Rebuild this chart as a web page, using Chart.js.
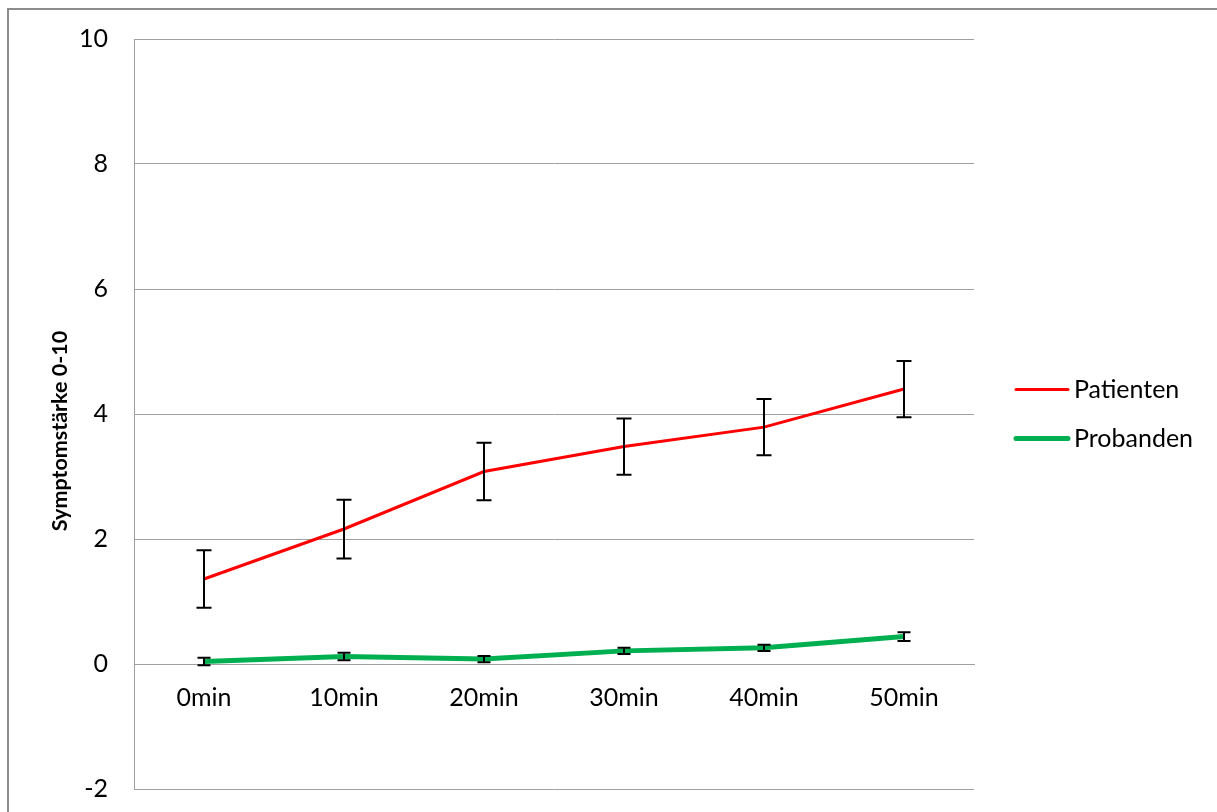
<!DOCTYPE html>
<html>
<head>
<meta charset="utf-8">
<script src="https://cdn.jsdelivr.net/npm/chart.js@4"></script>
<style>
    body { margin: 0; background: #fff; }
</style>
</head>
<body>
<canvas id="symptomChart" width="1217" height="812"></canvas>
<script>
const timeLabels = ['0min', '10min', '20min', '30min', '40min', '50min'];

const patienten = [1.36, 2.16, 3.08, 3.48, 3.79, 4.40];
const patientenErr = [0.46, 0.47, 0.46, 0.45, 0.45, 0.45];

const probanden = [0.04, 0.12, 0.08, 0.21, 0.26, 0.44];
const probandenErr = [0.06, 0.06, 0.05, 0.05, 0.05, 0.07];

const yTicks = [-2, 0, 2, 4, 6, 8, 10];
const yTitle = 'Symptomstärke 0-10';

const fontFamily = 'Lato, "Open Sans", sans-serif';

// black error bars with caps, drawn through the chart's own scales
const errorBars = {
    id: 'errorBars',
    afterDatasetsDraw(chart) {
        const ctx = chart.ctx;
        const xs = chart.scales.x, ys = chart.scales.y;
        ctx.save();
        ctx.strokeStyle = '#000';
        ctx.lineWidth = 2;
        chart.data.datasets.forEach(ds => {
            ds.data.forEach((v, i) => {
                const err = ds.errors[i];
                const x = xs.getPixelForValue(i);
                const top = ys.getPixelForValue(v + err);
                const bot = ys.getPixelForValue(v - err);
                const cap = ds.capWidth / 2;
                ctx.beginPath();
                ctx.moveTo(x, top); ctx.lineTo(x, bot);
                ctx.moveTo(x - cap, top); ctx.lineTo(x + cap, top);
                ctx.moveTo(x - cap, bot); ctx.lineTo(x + cap, bot);
                ctx.stroke();
            });
        });
        ctx.restore();
    }
};

// legend on the right, y title, and the frame around the whole chart
const sideLegend = {
    id: 'sideLegend',
    afterDraw(chart) {
        const ctx = chart.ctx;
        const area = chart.chartArea;
        const mid = (area.top + area.bottom) / 2;
        ctx.save();
        chart.data.datasets.forEach((ds, i) => {
            const y = mid - 24.5 + i * 49;
            ctx.strokeStyle = ds.borderColor;
            ctx.lineWidth = ds.borderWidth;
            ctx.lineCap = 'round';
            ctx.beginPath();
            ctx.moveTo(area.right + 42, y);
            ctx.lineTo(area.right + 94, y);
            ctx.stroke();
            ctx.fillStyle = '#000';
            ctx.font = '25px ' + fontFamily;
            ctx.textBaseline = 'middle';
            ctx.textAlign = 'left';
            ctx.fillText(ds.label, area.right + 100, y);
        });

        ctx.translate(60, mid + 17);
        ctx.rotate(-Math.PI / 2);
        ctx.font = 'bold 21.5px ' + fontFamily;
        ctx.fillStyle = '#000';
        ctx.textAlign = 'center';
        ctx.textBaseline = 'middle';
        ctx.fillText(yTitle, 0, 0);
        ctx.setTransform(1, 0, 0, 1, 0, 0);

        ctx.strokeStyle = '#8c8c8c';
        ctx.lineWidth = 2;
        ctx.strokeRect(8, 9, 1400, 1000);
        ctx.restore();
    }
};

new Chart(document.getElementById('symptomChart'), {
    type: 'line',
    data: {
        labels: timeLabels,
        datasets: [{
            label: 'Patienten',
            data: patienten,
            errors: patientenErr,
            capWidth: 15,
            borderColor: '#ff0000',
            borderWidth: 3,
            pointRadius: 0,
            tension: 0
        }, {
            label: 'Probanden',
            data: probanden,
            errors: probandenErr,
            capWidth: 13,
            borderColor: '#00b050',
            borderWidth: 5,
            pointRadius: 0,
            tension: 0
        }]
    },
    options: {
        responsive: false,
        animation: false,
        layout: { padding: { left: 0, right: 243, top: 39, bottom: 23 } },
        plugins: {
            legend: { display: false },
            tooltip: { enabled: false }
        },
        scales: {
            x: {
                position: { y: 0 },
                offset: true,
                afterFit(scale) { scale.height = 0; },
                grid: { display: false },
                border: { color: '#a0a0a0', width: 1 },
                ticks: {
                    padding: 11,
                    color: '#000',
                    font: { family: fontFamily, size: 25 }
                }
            },
            y: {
                min: -2,
                max: 10,
                afterBuildTicks(scale) {
                    scale.ticks = yTicks.map(v => ({ value: v }));
                },
                afterFit(scale) {
                    scale.width = 134;
                    scale.paddingTop = 0;
                    scale.paddingBottom = 0;
                },
                grid: { color: '#a0a0a0', lineWidth: 1, drawTicks: false },
                border: { color: '#a0a0a0', width: 1 },
                ticks: {
                    padding: 26,
                    color: '#000',
                    font: { family: fontFamily, size: 25 }
                }
            }
        }
    },
    plugins: [errorBars, sideLegend]
});
</script>
</body>
</html>
